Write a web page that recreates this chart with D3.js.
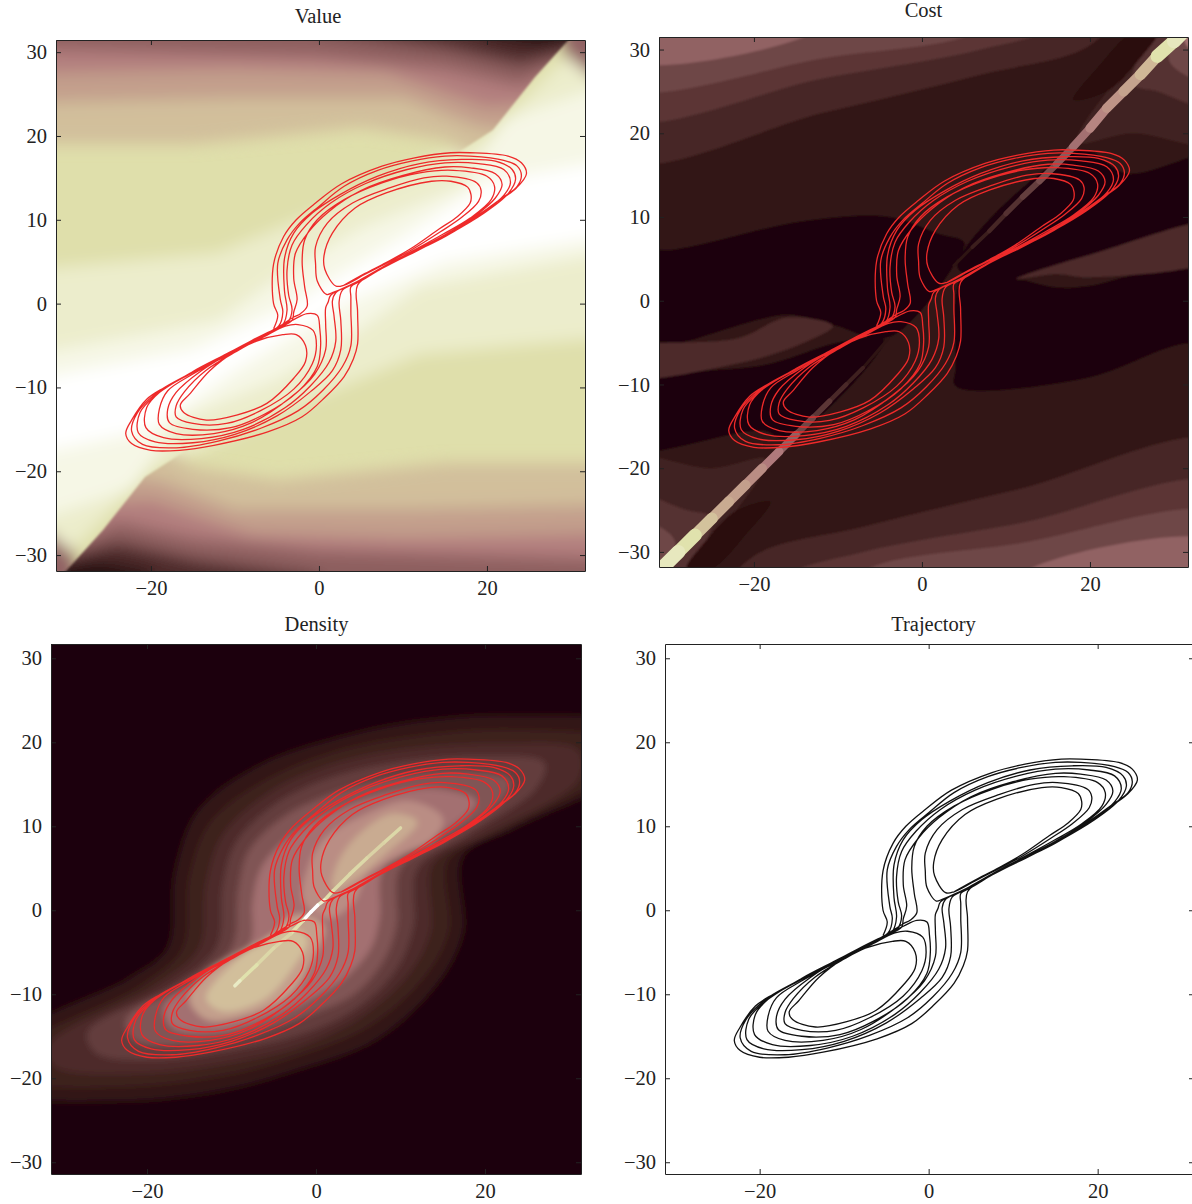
<!DOCTYPE html>
<html>
<head>
<meta charset="utf-8">
<script src="https://cdn.jsdelivr.net/npm/d3@7"></script>
<style>
  body { margin: 0; background: #fff; overflow: hidden; }
  svg { display: block; }
  text { font-family: "Liberation Serif", serif; fill: #222; }
</style>
</head>
<body>
<svg width="1192" height="1204"></svg>
<script>
const xTicks = [-20, 0, 20];
const yTicks = [-30, -20, -10, 0, 10, 20, 30];

// colour map stops, dark brown through pink to white
const colorLevels = [0, 0.1, 0.2, 0.3, 0.45, 0.6, 0.75, 0.9, 1];
const colorStops = ["#1b0607", "#331816", "#4e2c2c", "#6e4646", "#b07a7c", "#cdb294", "#e0e2ad", "#f4f5e0", "#ffffff"];

const trajectory = [
  [3,2.2],[5.5,3.6],[8,4.9],[11,6.6],[14.3,8.9],[16.5,10.4],[18,12],[18.1,13],[17.7,13.9],[15.7,14.6],[13.4,14.6],[8,13.2],[4.3,11.4],[1.6,8.4],[0.6,5.7],[0.7,4.1],[2,2.1],[3,2.2],
  [5.5,3.5],[8,4.8],[11,6.4],[14.5,8.6],[17,10.3],[19,12.2],[19.3,13.5],[18.8,14.4],[15.2,15.2],[12.5,15],[8.4,13.8],[4,12],[1,9.6],[-0.4,6.8],[-0.4,4.7],[-0.2,2.7],[0.9,1.1],[1.6,1.3],
  [4.5,2.6],[7.5,4.3],[11,6.2],[14.8,8.3],[18,10.2],[20.5,12.4],[20.9,14],[20,15.2],[16,15.9],[12,15.6],[7.5,14.4],[3,12.4],[-0.2,10],[-1.7,7.6],[-2,5],[-1.7,2],[-1.4,-0.3],[-2.2,-1.2],[-3,-1.6],
  [-5,-2.9],[-7.5,-4.4],[-10,-5.7],[-13,-8],[-15.4,-10.8],[-16.5,-12.1],[-16.1,-13],[-13.4,-13.9],[-9.8,-13.3],[-6.2,-11.9],[-3,-8.9],[-1.6,-6.9],[-1.6,-5],[-2.7,-3.7],[-4.3,-3.7],
  [-7.5,-4.5],[-10,-5.8],[-13.5,-8],[-16,-10.5],[-17,-12.2],[-17,-13.5],[-15,-14.3],[-11,-14.3],[-7,-12.8],[-3,-10.2],[-0.8,-7.2],[-0.3,-5],[-0.7,-3.2],[-2.5,-2.5],
  [-4,-2.7],[-7,-4.2],[-10,-5.6],[-14,-8],[-17,-10.6],[-18,-12.6],[-17.8,-14.2],[-15,-15],[-10.5,-14.8],[-6.5,-13.2],[-2.5,-10.5],[-0.2,-7.5],[0.2,-5],[0.1,-3],[-0.2,-1.4],[-1.4,-1.2],[-3,-1.9],
  [-5,-2.9],[-8,-4.6],[-11,-6.2],[-15,-8.4],[-18,-10.4],[-19,-12.6],[-19,-14.4],[-17,-15.5],[-12.5,-15.5],[-8,-14.2],[-3.5,-11.3],[-0.5,-8.4],[0.8,-5.5],[0.8,-2.5],[0.8,-0.5],[1.1,0.2],[1.4,1],
  [4.5,2.6],[7.5,4.3],[11,6.1],[15,8.2],[18.5,10.4],[21,12.6],[21.8,14.2],[21,15.5],[18,16.2],[15,16.3],[10,15.3],[5,13.5],[1.2,11],[-1.2,8.6],[-2.8,6],[-3,3],[-2.6,0.5],[-3,-1],[-3.2,-2],
  [-5,-3],[-8,-4.5],[-11,-6],[-15,-8.2],[-19,-10.6],[-20.5,-12.4],[-20.6,-14.8],[-18.5,-16],[-14,-16.1],[-9,-15],[-4,-12.4],[-1,-9.8],[1.2,-7],[2,-4.5],[1.8,-1.5],[1.6,0.3],[2,1.3],
  [4.5,2.5],[7.5,4.2],[11,6],[15,8],[19,10.5],[22,12.9],[22.8,14.5],[22,16],[19,16.7],[15,16.8],[10.5,16],[5.5,14.3],[1.4,12],[-1.5,9.4],[-3.2,7],[-3.8,4],[-3.6,1],[-3.2,-0.7],[-3.7,-2.2],
  [-5.2,-3],[-8,-4.4],[-11,-6],[-15,-8.1],[-19.5,-11],[-21.3,-13],[-21.5,-15.4],[-19.5,-16.5],[-15,-16.6],[-10,-15.6],[-5,-13.4],[-1,-10.5],[1.6,-8],[2.6,-5.5],[2.6,-2],[2.4,0.2],[2.8,1.6],
  [5,2.7],[8,4.5],[11.5,6.2],[15.5,8.3],[19.5,10.7],[22.5,13.1],[23.4,14.8],[23,16],[21,17],[17,17.2],[12,16.7],[7,15.2],[2.5,13],[-0.8,10.8],[-3,8.4],[-4.1,5.4],[-4.1,1.5],[-3.8,-0.8],[-4.3,-2.5],
  [-5.2,-3],[-8,-4.5],[-11,-6],[-15,-8.2],[-19.5,-10.8],[-21.6,-13],[-22.3,-15.2],[-21,-16.8],[-17,-17.2],[-12,-16.4],[-7,-14.9],[-2.5,-12.8],[0.5,-10.3],[2.8,-7.5],[3.8,-5],[3.8,-1],[3.8,0.8],[3.8,2],
  [5,2.7],[8,4.6],[11.5,6.4],[15.5,8.4],[19,10.6],[21.5,12.4],[23.6,14],[24.1,15.3],[23.6,16.4],[22,17.1],[18,17.6],[15,17.6],[11,17],[7,15.9],[3,14],[0,11.6],[-2.3,9.6],[-3.8,7.6],[-4.9,4.8],[-4.6,0.5],[-4.3,-1],[-4.8,-2.7],
  [-7.5,-4.2],[-9.8,-5.5],[-14.3,-7.8],[-18.4,-10],[-20.5,-11.4],[-22.3,-13.9],[-23,-15.5],[-22.3,-16.7],[-20,-17.5],[-16.6,-17.5],[-12.5,-16.9],[-6.1,-15.3],[-2,-13.5],[0.7,-11.2],[3,-8.7],[4.1,-6.6],[4.6,-4.8],[4.6,-1],[4.6,2.2],
  [7.5,4.2],[11,6],[15,8],[18.5,10.2],[21,12],[23.5,13.8],[24.7,15.5],[24.1,16.8],[22.5,17.6],[18,18],[15.7,18],[11.4,17.4],[7.5,16.4],[2.7,14.3],[-0.4,12],[-2.7,10],[-4.2,8],[-5.4,4.7],[-5.4,0],[-4.9,-1.4],[-5.4,-3]
];

// Value surface: iso-level regions painted from back to front
const valueLevels = [0.74, 0.84, 0.92, 1, 0.38, 0.38];
const valueBands = [
  [[-34,-34],[34,-34],[34,34],[-34,34]],
  [[-34,4],[-12,6],[0,11],[12,16.5],[20,20],[34,34],[34,-4],[12,-6],[0,-11],[-12,-16.5],[-20,-20],[-34,-34]],
  [[-34,-6],[-12,-2],[-5,3],[5,9],[17,14],[22,22],[34,26],[34,6],[12,2],[5,-3],[-5,-9],[-17,-14],[-22,-22],[-34,-26]],
  [[-34,-9],[-15,-5.5],[-3,0],[0,2],[10,8],[20,14.5],[34,17],[34,8],[15,5],[3,0],[0,-2],[-10,-8],[-20,-15],[-34,-18]],
  [[29,30],[34,26],[34,34],[28,34]],
  [[-29,-30],[-34,-26],[-34,-34],[-28,-34]]
];
// the dark wedges either side of the ridge, cut off crisply along the diagonal
const valueWedgeLevels = [0.64, 0.55, 0.46, 0.37, 0.2, 0.02];
const valueTopEdge = [[-34,10],[10,10],[15,17],[20.7,20.7],[25.7,27],[29.3,31],[32,34],[-34,34]];
const valueBottomEdge = [[34,-10],[-10,-10],[-15,-17],[-20.7,-20.7],[-25.7,-27],[-29.3,-31],[-32,-34],[34,-34]];
const valueTopBands = [
  [[-34,19],[-15,19],[5,21],[15,19.5],[24,14],[38,34],[-34,34]],
  [[-34,24],[-10,24.5],[10,24.5],[19,21],[28,20],[38,34],[-34,34]],
  [[-34,27.5],[-10,28],[8,27.5],[20,23.5],[28,24],[36,34],[-34,34]],
  [[-34,30.5],[0,29.5],[15,28],[24,26],[32,30],[34,34],[-34,34]],
  [[0,32.5],[15,30.5],[24,28.5],[32,30.5],[34,34],[0,34]],
  [[20,32],[26,30.8],[33,31.5],[34,34],[20,34]]
];
const valueBottomBands = [
  [[34,-19],[15,-19],[-5,-21],[-15,-19.5],[-24,-14],[-38,-34],[34,-34]],
  [[34,-24],[10,-24.5],[-10,-24.5],[-19,-21],[-28,-20],[-38,-34],[34,-34]],
  [[34,-27.5],[10,-28],[-8,-27.5],[-20,-23.5],[-28,-24],[-36,-34],[34,-34]],
  [[34,-30.5],[0,-29.5],[-15,-28],[-24,-26],[-32,-30],[-34,-34],[34,-34]],
  [[0,-32.5],[-15,-30.5],[-24,-28.5],[-32,-30.5],[-34,-34],[0,-34]],
  [[-20,-32],[-26,-30.8],[-33,-31.5],[-34,-34],[-20,-34]]
];

// Cost surface, the same way
const costLevels = [0.1, 0.17, 0.24, 0.3, 0.38, 0.17, 0.24, 0.3, 0.38, 0.15, 0.22, 0.3, 0.42, 0.15, 0.22, 0.3, 0.42, 0, 0, 0, 0, 0.06, 0.06, 0.2, 0.2];
const costBands = [
  [[-36,-36],[36,-36],[36,36],[-36,36]],
  [[-36,17],[-11.5,22.5],[7,27],[20,30.5],[24,36],[-36,36]],
  [[-36,22],[-11.5,26.6],[7,30],[16,33],[16,36],[-36,36]],
  [[-36,25.7],[-11.5,29],[7,32.5],[8,36],[-36,36]],
  [[-36,29],[-14,31.5],[-8,36],[-36,36]],
  [[36,-17],[11.5,-22.5],[-7,-27],[-20,-30.5],[-24,-36],[36,-36]],
  [[36,-22],[11.5,-26.6],[-7,-30],[-16,-33],[-16,-36],[36,-36]],
  [[36,-25.7],[11.5,-29],[-7,-32.5],[-8,-36],[36,-36]],
  [[36,-29],[14,-31.5],[8,-36],[36,-36]],
  [[36,19],[25,20],[18.5,19],[33,36],[36,36]],
  [[36,23],[28,25],[25,26],[31,36],[36,36]],
  [[36,26],[29.5,28.5],[32,36],[36,36]],
  [[36,29],[31.5,30.5],[32,36],[36,36]],
  [[-36,-19],[-25,-20],[-18.5,-19],[-33,-36],[-36,-36]],
  [[-36,-23],[-28,-25],[-25,-26],[-31,-36],[-36,-36]],
  [[-36,-26],[-29.5,-28.5],[-32,-36],[-36,-36]],
  [[-36,-29],[-31.5,-30.5],[-32,-36],[-36,-36]],
  [[-36,6],[-29.7,6.1],[-14.2,9.5],[-3.8,10],[2,8],[5,7],[4,4.5],[-4,-4.4],[-10.6,-2.9],[-16,-1.7],[-36,-5.5]],
  [[-36,-10.7],[-18,-7.5],[-10,-5],[-4.5,-4.6],[-16,-16.5],[-19,-15.5],[-36,-17.7]],
  [[36,4.8],[19.9,1.8],[16,1.6],[11,2.7],[4.9,3],[4,-8],[4,-10.2],[19.4,-9.3],[30.8,-5.2],[36,-5]],
  [[36,17.5],[24.4,15.2],[19,18],[4.2,4],[11.2,2.6],[20,5],[36,9.5]],
  [[18,24],[22,25],[26,29],[28,32],[25,32],[21,28]],
  [[-18,-24],[-22,-25],[-26,-29],[-28,-32],[-25,-32],[-21,-28]],
  [[-36,-6],[-22,-4.5],[-16,-2],[-10.6,-3],[-14,-5],[-22,-7.5],[-36,-9]],
  [[36,9.3],[20,5.5],[11.2,2.6],[16,3.2],[20,2.8],[36,5.5]]
];
// narrow bright ridge along the diagonal: x, y, level
const costRidge = [
  [3.8,4.2,0.08],[6,6.4,0.13],[8,8.3,0.17],[10,10.4,0.22],[12,12.4,0.27],[14,14.3,0.32],[16,16.3,0.36],[18,18.4,0.42],[20,20.6,0.48],[22,23,0.52],[24,25,0.56],[26,27,0.62],[28,29.2,0.75],[30,31,0.8],[32,33,0.8]
];
const costRidgeLow = [
  [-4,-4.5,0.08],[-7,-8,0.14],[-9,-10,0.18],[-11,-12,0.24],[-13,-14,0.3],[-15,-16,0.38],[-17,-18,0.45],[-19,-20,0.5],[-21,-22,0.55],[-23,-24,0.58],[-25,-26,0.65],[-27,-28,0.75],[-29,-30,0.8],[-31,-32,0.8],[-33,-34,0.8]
];

// Density, nested contours around the two lobes plus the bright ridge
const densityLevels = [0, 0.09, 0.14, 0.2, 0.27, 0.34, 0.42, 0.5, 0.55, 0.58, 0.64];
const densityBands = [
  [[-36,-36],[36,-36],[36,36],[-36,36]],
  [[36,21.8],[22.9,23.2],[10.6,22.3],[2.4,20.5],[-6.7,17.3],[-14,11.8],[-16.7,4.5],[-17.6,-4.5],[-22,-8],[-36,-15.5],[-36,-21.4],[-22.6,-22.7],[-10.8,-21.4],[-2.1,-19],[7,-15.5],[14.2,-9],[17.4,-2.7],[17.4,6.4],[23.8,10],[36,16.4]],
  [[36,20],[23,21.5],[10,20.5],[2,18.8],[-6,15.5],[-12.5,10.5],[-15,4],[-15.8,-4.5],[-20.5,-8.8],[-36,-17],[-36,-20],[-22,-21],[-10,-19.5],[-2,-17.3],[6.3,-13.8],[12.8,-8],[15.7,-2.5],[15.7,6],[22.5,9.6],[36,17.5]],
  [[31,19],[22,19.8],[9.5,19],[1.5,17.2],[-5.5,14],[-11,9],[-13,3],[-13.8,-4.5],[-19,-9],[-31.5,-16],[-31,-18.5],[-21,-19.4],[-9.5,-18],[-1.5,-16],[5.5,-12.5],[11,-7.5],[13.5,-2.5],[13.8,5.5],[20,9],[31,15.5]],
  [[27,17.5],[20,18.3],[9,17.5],[1,15.5],[-5,12.5],[-9.5,8],[-11,3],[-11.8,-4.5],[-17,-9],[-27,-14.5],[-26,-17],[-19,-17.8],[-9,-16.5],[-1,-14.5],[5,-11.5],[9.5,-7],[11.5,-2],[12,5],[18,9],[26,14.5]],
  [[23,15.5],[17,16.5],[8,15.5],[1,13.5],[-4,11],[-8,7],[-9.2,2.5],[-10,-4.5],[-15,-8.5],[-22.5,-13],[-21.5,-15.5],[-16,-16],[-8,-14.8],[-1,-12.5],[4.5,-10],[8,-6],[9.5,-2],[10,5],[15.5,8.5],[22,13]],
  [[19,13],[14,14.5],[7,13.5],[0.5,11],[-3.5,8.5],[-6.5,5],[-7.5,1],[-7.8,-4],[-12,-7.5],[-18,-11.5],[-17,-14],[-12,-14.5],[-6,-13],[-0.5,-10.5],[3.5,-8],[6.5,-4.5],[7.5,-1],[8,5],[13,8],[18,11.5]],
  [[15,11],[11,13],[6,11.5],[1,8.5],[-1,5],[-1.5,1],[1.5,-1],[4.5,1],[6,4],[10,6.5],[14,8.5]],
  [[-15,-10.5],[-13,-13],[-8,-12.5],[-3,-10],[-0.5,-6],[1,-2],[-1,-0.5],[-3.5,-1],[-5,-3],[-9,-5],[-13,-7.5]],
  [[12,10.5],[9,11.5],[5,9],[2.5,5.5],[2,2.5],[5,4],[8,6.5]],
  [[-13,-10.5],[-11,-12],[-6,-10.5],[-2.5,-6.5],[-1,-3.5],[-3,-2],[-6,-3.5],[-10,-6.5]]
];
const densityRidge = [
  [10,9.8,0.72],[8,8,0.7],[6,6.2,0.72],[4,4.3,0.72],[2,2.3,0.74],[1,1.2,0.85],[0.2,0.6,1],[-0.6,-0.2,1],[-1.5,-1.2,0.75],[-3,-2.8,0.7],[-5,-4.5,0.72],[-7,-6.5,0.75],[-9,-8.4,0.82],[-9.6,-9,0.78]
];

const panels = [
  { title: "Value", titleX: 318, titleY: 23, left: 56, right: 585, top: 40, bottom: 571, xd: [-31.3, 31.67], yd: [-31.9, 31.45],
    levels: valueLevels, bands: valueBands, blur: 8, smooth: false, ridges: [], ridgeWidth: [0, 0], line: "#ee2a2a" },
  { title: "Cost", titleX: 923.5, titleY: 17, left: 659, right: 1188, top: 37, bottom: 567, xd: [-31.3, 31.67], yd: [-31.8, 31.5],
    levels: costLevels, bands: costBands, blur: 1.2, smooth: true, ridges: [costRidge, costRidgeLow], ridgeWidth: [3, 14], line: "#ee2a2a" },
  { title: "Density", titleX: 316.5, titleY: 631, left: 51, right: 581, top: 644, bottom: 1174, xd: [-31.36, 31.36], yd: [-31.4, 31.7],
    levels: densityLevels, bands: densityBands, blur: 3, smooth: true, ridges: [densityRidge], ridgeWidth: [3.5, 3.5], line: "#ee2a2a" },
  { title: "Trajectory", titleX: 933.5, titleY: 631, left: 665, right: 1194, top: 644, bottom: 1174, xd: [-31.2, 31.4], yd: [-31.4, 31.7],
    levels: null, bands: null, blur: 0, smooth: false, ridges: [], ridgeWidth: [0, 0], line: "#111" }
];

const color = d3.scaleLinear().domain(colorLevels).range(colorStops);
const svg = d3.select("svg");
const defs = svg.append("defs");

function addBlur(id, p, amount) {
  const f = defs.append("filter").attr("id", id)
    .attr("filterUnits", "userSpaceOnUse")
    .attr("x", p.left - 40).attr("y", p.top - 40)
    .attr("width", p.right - p.left + 80).attr("height", p.bottom - p.top + 80);
  f.append("feGaussianBlur").attr("stdDeviation", amount);
}

panels.forEach(function(p, i) {
  const x = d3.scaleLinear().domain(p.xd).range([p.left, p.right]);
  const y = d3.scaleLinear().domain(p.yd).range([p.bottom, p.top]);
  const line = d3.line().x(d => x(d[0])).y(d => y(d[1]));
  const shape = d3.line().x(d => x(d[0])).y(d => y(d[1]))
    .curve(p.smooth ? d3.curveCatmullRomClosed.alpha(0.5) : d3.curveLinearClosed);
  const path = d3.line().x(d => x(d[0])).y(d => y(d[1]))
    .curve(d3.curveCatmullRom.alpha(0.5));

  defs.append("clipPath").attr("id", "clip" + i)
    .append("rect")
    .attr("x", p.left).attr("y", p.top)
    .attr("width", p.right - p.left).attr("height", p.bottom - p.top);

  const g = svg.append("g").attr("clip-path", `url(#clip${i})`);

  if (p.bands) {
    addBlur("blur" + i, p, p.blur);
    g.append("g").attr("filter", `url(#blur${i})`)
      .selectAll("path")
      .data(p.bands)
      .enter()
      .append("path")
      .attr("d", d => shape(d))
      .attr("fill", (d, j) => color(p.levels[j]));
  }

  if (p.title === "Value") {
    addBlur("edgeBlur", p, 1.2);
    [[valueTopEdge, valueTopBands], [valueBottomEdge, valueBottomBands]].forEach(function(w, k) {
      defs.append("clipPath").attr("id", "wedge" + k)
        .append("path").attr("d", line(w[0]) + "Z");
      g.append("g").attr("filter", "url(#edgeBlur)")
        .append("g").attr("clip-path", `url(#wedge${k})`)
        .append("g").attr("filter", `url(#blur${i})`)
        .selectAll("path")
        .data(w[1])
        .enter()
        .append("path")
        .attr("d", d => line(d) + "Z")
        .attr("fill", (d, j) => color(valueWedgeLevels[j]));
    });
  }

  // ridges are drawn as short segments, brighter ones get wider
  const ridgeWidth = d3.scaleLinear().domain([0.08, 0.8]).range(p.ridgeWidth).clamp(true);
  p.ridges.forEach(function(r) {
    g.append("g").selectAll("line")
      .data(d3.pairs(r))
      .enter()
      .append("line")
      .attr("x1", d => x(d[0][0]))
      .attr("y1", d => y(d[0][1]))
      .attr("x2", d => x(d[1][0]))
      .attr("y2", d => y(d[1][1]))
      .attr("stroke", d => color(d[0][2]))
      .attr("stroke-width", d => ridgeWidth(d[0][2]))
      .attr("stroke-linecap", "round");
  });

  g.append("path")
    .attr("d", path(trajectory))
    .attr("fill", "none")
    .attr("stroke", p.line)
    .attr("stroke-width", 1.3)
    .attr("stroke-linejoin", "round");

  // ticks point inward on all four sides, only bottom and left carry labels
  const axes = [
    { axis: d3.axisBottom(x).tickValues(xTicks), at: [0, p.bottom] },
    { axis: d3.axisLeft(y).tickValues(yTicks), at: [p.left, 0] },
    { axis: d3.axisTop(x).tickValues(xTicks).tickFormat(""), at: [0, p.top] },
    { axis: d3.axisRight(y).tickValues(yTicks).tickFormat(""), at: [p.right, 0] }
  ];
  axes.forEach(function(a) {
    const ag = svg.append("g")
      .attr("transform", `translate(${a.at[0]},${a.at[1]})`)
      .call(a.axis.tickSizeInner(-5).tickSizeOuter(0).tickPadding(9));
    ag.selectAll("text").style("font-size", "20.5px").style("font-family", '"Liberation Serif", serif').attr("fill", "#222");
    ag.selectAll("line, path").attr("stroke", "#222");
  });

  svg.append("text")
    .attr("x", p.titleX)
    .attr("y", p.titleY)
    .attr("text-anchor", "middle")
    .style("font-size", "20.5px")
    .text(p.title);
});
</script>
</body>
</html>
